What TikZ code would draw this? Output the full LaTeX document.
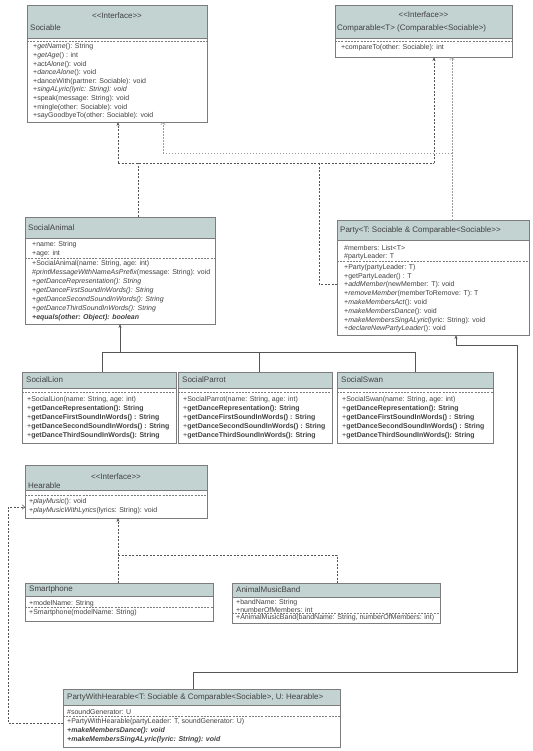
\documentclass[tikz,border=0pt]{standalone}
\usepackage{fontspec}
\setmainfont{Liberation Sans}[Ligatures=TeXOff]
\usetikzlibrary{arrows.meta}
\definecolor{hdrfill}{HTML}{C3D3D2}
\definecolor{bdr}{HTML}{7C7C7C}
\definecolor{txt}{HTML}{404040}
\definecolor{lnk}{HTML}{555555}
\newcommand\umlbox[6]{%
  \node[bbox, anchor=north west, minimum width={#5-#2}, minimum height={#6-#3}] (#1) at (#2,#3) {};
  \node[hbox, anchor=north west, minimum width={#5-#2}, minimum height={#4-#3}] (#1-h) at (#2,#3) {};}
\newcommand\mln[4]{\node[mem] (#1) at (#2,#3) {#4};}
\newcommand\sepl[3]{\draw[sepline] (#1,#3) -- (#2,#3);}
\begin{document}
\begin{tikzpicture}[x=1pt,y=-1pt,
  bbox/.style={draw=bdr, fill=white, line width=0.6pt, inner sep=0pt, outer sep=0pt},
  hbox/.style={draw=bdr, fill=hdrfill, line width=0.6pt, inner sep=0pt, outer sep=0pt},
  sepline/.style={draw=bdr, line width=0.5pt, dash pattern=on 2pt off 1.2pt},
  ttl/.style={anchor=west, inner sep=0pt, font=\fontsize{8}{9}\selectfont, text=txt},
  ster/.style={anchor=center, inner sep=0pt, font=\fontsize{8}{9}\selectfont, text=txt},
  mem/.style={anchor=west, inner sep=0pt, font=\fontsize{7}{8}\selectfont, text=txt},
  conn/.style={draw=lnk, line width=0.55pt, dash pattern=on 2pt off 1.5pt},
  connb/.style={draw=lnk!60, line width=0.5pt, dash pattern=on 1.5pt off 1.5pt},
  solidl/.style={draw=lnk, line width=0.55pt},
  fhead/.style={-{Stealth[length=4pt,width=3pt]}},
  ohead/.style={-{Straight Barb[length=2.5pt,width=4.5pt]}}
]
\useasboundingbox (0,0) rectangle (532,751);
\fill[white] (0,0) rectangle (532,751);

% ---------- Sociable ----------
\umlbox{soc}{27}{5}{38}{207}{122}
\node[ster] (soc-st) at (117,16) {<<Interface>>};
\node[ttl] (soc-t) at (30,28) {Sociable};
\sepl{27}{207}{41}
\mln{soc-m1}{33}{47}{+\textit{getName}(): String}
\mln{soc-m2}{33}{55.6}{+\textit{getAge}() : int}
\mln{soc-m3}{33}{64.2}{+\textit{actAlone}(): void}
\mln{soc-m4}{33}{72.8}{+\textit{danceAlone}(): void}
\mln{soc-m5}{33}{81.4}{+danceWith(partner: Sociable): void}
\mln{soc-m6}{33}{90}{+\textit{singALyric(lyric: String): void}}
\mln{soc-m7}{33}{98.6}{+speak(message: String): void}
\mln{soc-m8}{33}{107.2}{+mingle(other: Sociable): void}
\mln{soc-m9}{33}{115.8}{+sayGoodbyeTo(other: Sociable): void}

% ---------- Comparable ----------
\umlbox{cmp}{335}{5}{38}{512}{57}
\node[ster] (cmp-st) at (423.5,15) {<<Interface>>};
\node[ttl] (cmp-t) at (337,28) {Comparable<T> (Comparable<Sociable>)};
\sepl{335}{512}{41}
\mln{cmp-m1}{341}{47.5}{+compareTo(other: Sociable): int}

% ---------- SocialAnimal ----------
\umlbox{sa}{25}{217}{238}{215}{324}
\node[ttl] (sa-t) at (28,228) {SocialAnimal};
\mln{sa-a1}{32}{245}{+name: String}
\mln{sa-a2}{32}{253.5}{+age: int}
\sepl{25}{215}{258}
\mln{sa-m1}{32}{264}{+SocialAnimal(name: String, age: int)}
\mln{sa-m2}{32}{273}{\#\textit{printMessageWithNameAsPrefix}(message: String): void}
\mln{sa-m3}{32}{282}{+\textit{getDanceRepresentation(): String}}
\mln{sa-m4}{32}{291}{+\textit{getDanceFirstSoundInWords(): String}}
\mln{sa-m5}{32}{300}{+\textit{getDanceSecondSoundInWords(): String}}
\mln{sa-m6}{32}{309}{+\textit{getDanceThirdSoundInWords(): String}}
\mln{sa-m7}{32}{318}{\textbf{\textit{+equals(other: Object): boolean}}}

% ---------- Party ----------
\umlbox{party}{337}{220}{240}{529}{335}
\node[ttl] (party-t) at (340,230) {Party<T: Sociable \& Comparable<Sociable>>};
\mln{party-a1}{344}{248}{\#members: List<T>}
\mln{party-a2}{344}{256.5}{\#partyLeader: T}
\sepl{337}{529}{261}
\mln{party-m1}{344}{267.5}{+Party(partyLeader: T)}
\mln{party-m2}{344}{276.3}{+getPartyLeader() : T}
\mln{party-m3}{344}{285.1}{+\textit{addMember}(newMember: T): void}
\mln{party-m4}{344}{293.9}{+\textit{removeMember}(memberToRemove: T): T}
\mln{party-m5}{344}{302.7}{+\textit{makeMembersAct}(): void}
\mln{party-m6}{344}{311.5}{+\textit{makeMembersDance}(): void}
\mln{party-m7}{344}{320.3}{+\textit{makeMembersSingALyric}(lyric: String): void}
\mln{party-m8}{344}{329.1}{+\textit{declareNewPartyLeader}(): void}

% ---------- SocialLion ----------
\umlbox{lion}{22}{372}{388}{176}{443}
\node[ttl] (lion-t) at (26,380) {SocialLion};
\sepl{22}{176}{392}
\mln{lion-m1}{27}{400}{+SocialLion(name: String, age: int)}
\mln{lion-m2}{27}{409}{+\textbf{getDanceRepresentation(): String}}
\mln{lion-m3}{27}{418}{+\textbf{getDanceFirstSoundInWords() : String}}
\mln{lion-m4}{27}{427}{+\textbf{getDanceSecondSoundInWords() : String}}
\mln{lion-m5}{27}{436}{+\textbf{getDanceThirdSoundInWords(): String}}

% ---------- SocialParrot ----------
\umlbox{parrot}{178}{372}{388}{332}{443}
\node[ttl] (parrot-t) at (182,380) {SocialParrot};
\sepl{178}{332}{392}
\mln{parrot-m1}{183}{400}{+SocialParrot(name: String, age: int)}
\mln{parrot-m2}{183}{409}{+\textbf{getDanceRepresentation(): String}}
\mln{parrot-m3}{183}{418}{+\textbf{getDanceFirstSoundInWords() : String}}
\mln{parrot-m4}{183}{427}{+\textbf{getDanceSecondSoundInWords() : String}}
\mln{parrot-m5}{183}{436}{+\textbf{getDanceThirdSoundInWords(): String}}

% ---------- SocialSwan ----------
\umlbox{swan}{337}{372}{388}{493}{443}
\node[ttl] (swan-t) at (341,380) {SocialSwan};
\sepl{337}{493}{392}
\mln{swan-m1}{342}{400}{+SocialSwan(name: String, age: int)}
\mln{swan-m2}{342}{409}{+\textbf{getDanceRepresentation(): String}}
\mln{swan-m3}{342}{418}{+\textbf{getDanceFirstSoundInWords() : String}}
\mln{swan-m4}{342}{427}{+\textbf{getDanceSecondSoundInWords() : String}}
\mln{swan-m5}{342}{436}{+\textbf{getDanceThirdSoundInWords(): String}}

% ---------- Hearable ----------
\umlbox{hear}{25}{465}{490}{207}{518}
\node[ster] (hear-st) at (116,477) {<<Interface>>};
\node[ttl] (hear-t) at (28,486) {Hearable};
\sepl{25}{207}{495}
\mln{hear-m1}{29}{502}{+\textit{playMusic}(): void}
\mln{hear-m2}{29}{511}{+\textit{playMusicWithLyrics}(lyrics: String): void}

% ---------- Smartphone ----------
\umlbox{sp}{25}{583}{596}{213}{621}
\node[ttl] (sp-t) at (29,589.5) {Smartphone};
\mln{sp-a1}{29}{603.5}{+modelName: String}
\sepl{25}{213}{607.5}
\mln{sp-m1}{29}{612.5}{+Smartphone(modelName: String)}

% ---------- AnimalMusicBand ----------
\umlbox{amb}{232}{583}{597}{440}{623}
\node[ttl] (amb-t) at (236,590) {AnimalMusicBand};
\mln{amb-a1}{236}{603}{+bandName: String}
\mln{amb-a2}{236}{610}{+numberOfMembers: int}
\sepl{232}{440}{613.5}
\mln{amb-m1}{236}{618}{+AnimalMusicBand(bandName: String, numberOfMembers: int)}

% ---------- PartyWithHearable ----------
\umlbox{pwh}{63}{689}{705}{340}{747}
\node[ttl] (pwh-t) at (67,697) {PartyWithHearable<T: Sociable \& Comparable<Sociable>, U: Hearable>};
\mln{pwh-a1}{67}{711.5}{\#soundGenerator: U}
\sepl{63}{340}{716}
\mln{pwh-m1}{67}{721.5}{+PartyWithHearable(partyLeader: T, soundGenerator: U)}
\mln{pwh-m2}{67}{731}{\textbf{\textit{+makeMembersDance(): void}}}
\mln{pwh-m3}{67}{740}{\textbf{\textit{+makeMembersSingALyric(lyric: String): void}}}

% ---------- connectors ----------
\coordinate (a1) at (138,163);
\coordinate (a2) at (118,163);
\coordinate (a3) at (434,163);
\coordinate (p1) at (319,284);
\draw[conn] (sa.north -| a1) -- (a1);
\draw[conn] (a2) -- (a3);
\draw[conn,fhead] (a2) -- (a2 |- soc.south);
\draw[conn,fhead] (a3) -- (a3 |- cmp.south);
\draw[conn] (party.west |- p1) -- (p1) -- (p1 |- a1);

\coordinate (b1) at (452,153);
\coordinate (b2) at (163,153);
\draw[connb,ohead] (party.north -| b1) -- (b1 |- cmp.south);
\draw[connb,ohead] (b1) -- (b2) -- (b2 |- soc.south);

\coordinate (c0) at (120,352);
\coordinate (cl) at (102,352);
\coordinate (cp) at (259,352);
\coordinate (cs) at (415,352);
\draw[solidl,fhead] (c0) -- (c0 |- sa.south);
\draw[solidl] (cl) -- (cs);
\draw[solidl] (cl) -- (cl |- lion.north);
\draw[solidl] (cp) -- (cp |- parrot.north);
\draw[solidl] (cs) -- (cs |- swan.north);

\coordinate (d1) at (193,672);
\coordinate (d2) at (517,672);
\coordinate (d3) at (517,345);
\coordinate (d4) at (456,345);
\draw[solidl,fhead] (pwh.north -| d1) -- (d1) -- (d2) -- (d3) -- (d4) -- (d4 |- party.south);

\coordinate (h1) at (118,555);
\coordinate (h2) at (337,555);
\draw[conn,fhead] (sp.north -| h1) -- (h1 |- hear.south);
\draw[conn] (h1) -- (h2) -- (h2 |- amb.north);

\coordinate (e1) at (8,723);
\coordinate (e2) at (8,507);
\draw[conn,ohead] (pwh.west |- e1) -- (e1) -- (e2) -- (e2 -| hear.west);
\end{tikzpicture}
\end{document}
